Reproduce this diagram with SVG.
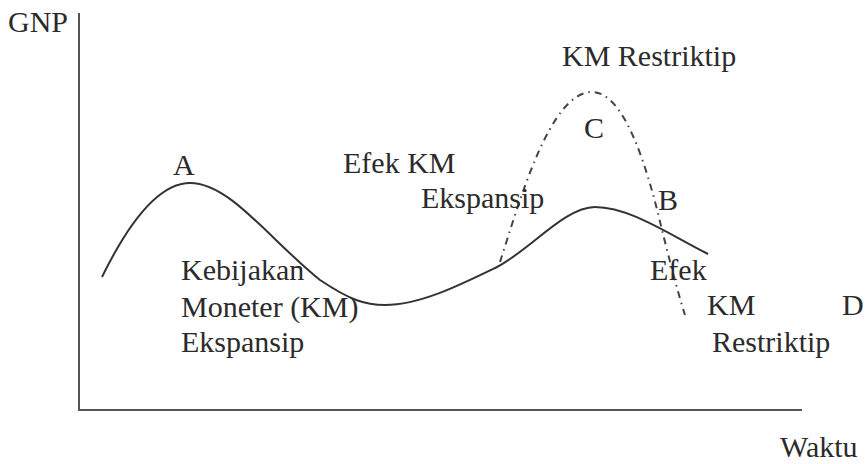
<svg xmlns="http://www.w3.org/2000/svg" width="865" height="464" viewBox="0 0 865 464">
<style>
text{font-family:"Liberation Serif","Times New Roman",serif;font-size:30px;fill:#2b2b2b}
.axis{stroke:#555;stroke-width:2;fill:none}
.solid{stroke:#333;stroke-width:2;fill:none}
.dash{stroke:#444;stroke-width:2;fill:none;stroke-dasharray:7 5 1.5 5}
</style>
<rect width="865" height="464" fill="#fff"/>
<g id="connectors">
<path class="axis" d="M79,13 V410 H802"/>
<path id="curve-solid" class="solid" d="M102,277 C130,220 160,183 190,183 C230,183 270,240 320,280 C350,300 365,305 385,305 C420,305 460,285 497,267 C530,250 565,207 595,207 C630,207 670,235 708,254"/>
<path id="curve-dash" class="dash" d="M500,262 C520,200 550,92 592,92 C625,92 648,170 662,230 C672,270 680,300 685,315"/>
</g>
<g id="labels">
<text x="8" y="32">GNP</text>
<text x="780" y="457">Waktu</text>
<text x="173" y="175">A</text>
<text x="343" y="173">Efek KM</text>
<text x="421" y="208">Ekspansip</text>
<text x="181" y="280">Kebijakan</text>
<text x="181" y="317">Moneter (KM)</text>
<text x="181" y="352">Ekspansip</text>
<text x="562" y="66">KM Restriktip</text>
<text x="584" y="138">C</text>
<text x="658" y="210">B</text>
<text x="650" y="280">Efek</text>
<text x="707" y="315">KM</text>
<text x="842" y="315">D</text>
<text x="712" y="352">Restriktip</text>
</g>
</svg>
